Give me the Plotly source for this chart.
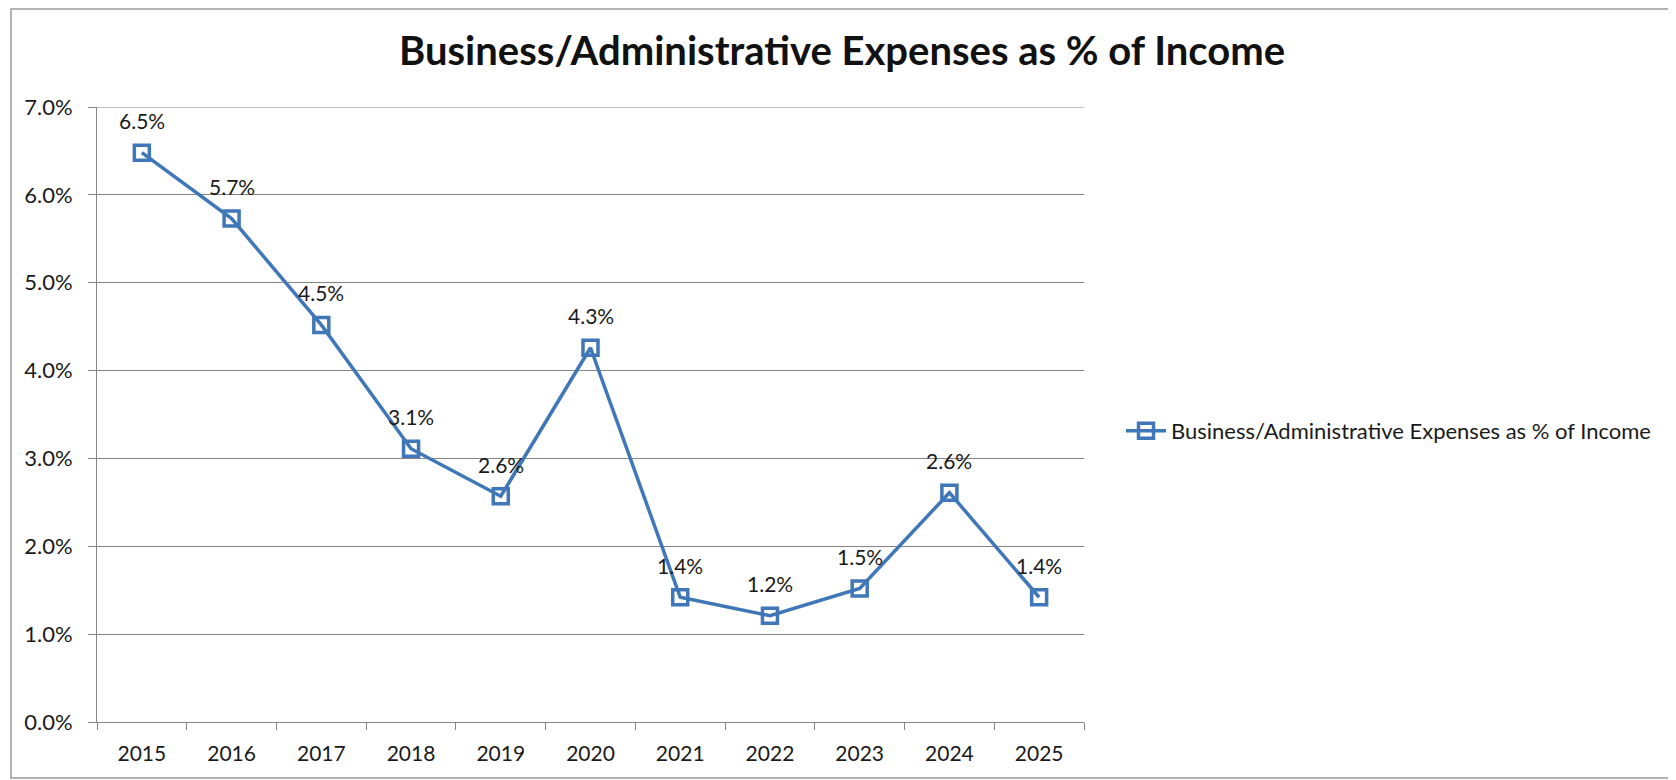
import plotly.graph_objects as go

years = ["2015", "2016", "2017", "2018", "2019", "2020", "2021", "2022", "2023", "2024", "2025"]
expense_pct = [0.0648, 0.0573, 0.0452, 0.0311, 0.0257, 0.0426, 0.0142, 0.0121, 0.0152, 0.0261, 0.0142]
y_ticks = [0.0, 0.01, 0.02, 0.03, 0.04, 0.05, 0.06, 0.07]
series_name = "Business/Administrative Expenses as % of Income"
title_text = "Business/Administrative Expenses as % of Income"

# the page body adds an 8px margin; lay out in window coords minus that offset
OFF = 8
W, H = 1676, 780
L, R, T, B = 97 - OFF, 1084 - OFF, 107 - OFF, 722 - OFF
pw, ph = R - L, B - T

def px(x):
    return (x - OFF - L) / pw

def py(y):
    return (B - (y - OFF)) / ph

FONT = "Lato"
BLUE = "#3F77B8"
GRID = "#868686"
TXT = "#1a1a1a"

fig = go.Figure()
fig.add_trace(go.Scatter(
    x=years, y=expense_pct, name=series_name,
    mode="lines+markers",
    line=dict(color=BLUE, width=3.5),
    marker=dict(symbol="square-open", size=15, color=BLUE, line=dict(width=3.5, color=BLUE)),
    cliponaxis=False,
))

# category axis: annotation x given as the category's index on that axis
annotations = [
    dict(x=i, y=v, xref="x", yref="y", text=f"{v * 100:.1f}%", showarrow=False,
         yshift=32, font=dict(family=FONT, size=21, color=TXT))
    for i, v in enumerate(expense_pct)
]

fig.update_layout(
    width=W, height=H,
    margin=dict(l=L, r=W - R, t=T, b=H - B),
    paper_bgcolor="white", plot_bgcolor="white",
    font=dict(family=FONT, size=21, color=TXT),
    title=dict(text="<b>" + title_text + "</b>", x=(842 - OFF) / W, xanchor="center",
               y=1 - (51 - OFF) / H, yanchor="middle",
               font=dict(family=FONT, size=40, color="#111111")),
    showlegend=True,
    legend=dict(x=px(1121), y=py(431), xanchor="left", yanchor="middle",
                font=dict(family=FONT, size=22, color=TXT),
                bgcolor="rgba(0,0,0,0)", itemwidth=40),
    xaxis=dict(type="category", categoryorder="array", categoryarray=years,
               range=[-0.5, len(years) - 0.5],
               showgrid=False, showline=True, linecolor=GRID, linewidth=1,
               ticks="outside", tickson="boundaries", ticklen=7, tickcolor=GRID,
               tickfont=dict(family=FONT, size=21, color=TXT), ticklabelstandoff=13,
               tickangle=0, zeroline=False),
    yaxis=dict(range=[0, 0.07], tickvals=y_ticks, tickformat=".1%", showgrid=True,
               gridcolor=GRID, gridwidth=1, showline=True, linecolor=GRID, linewidth=1,
               ticks="outside", ticklen=8, tickcolor=GRID, zeroline=False,
               ticklabelstandoff=11,
               tickfont=dict(family=FONT, size=22, color=TXT)),
    annotations=annotations,
    shapes=[
        dict(type="line", xref="paper", yref="y", x0=0, x1=1, y0=y_ticks[-1], y1=y_ticks[-1],
             line=dict(color=GRID, width=1), layer="below"),
        dict(type="rect", xref="paper", yref="paper",
             x0=px(11), x1=px(1671), y0=py(778), y1=py(9),
             line=dict(color="#9A9A9A", width=1.5), fillcolor="rgba(0,0,0,0)", layer="below"),
    ],
)

fig.write_html("out.html")
